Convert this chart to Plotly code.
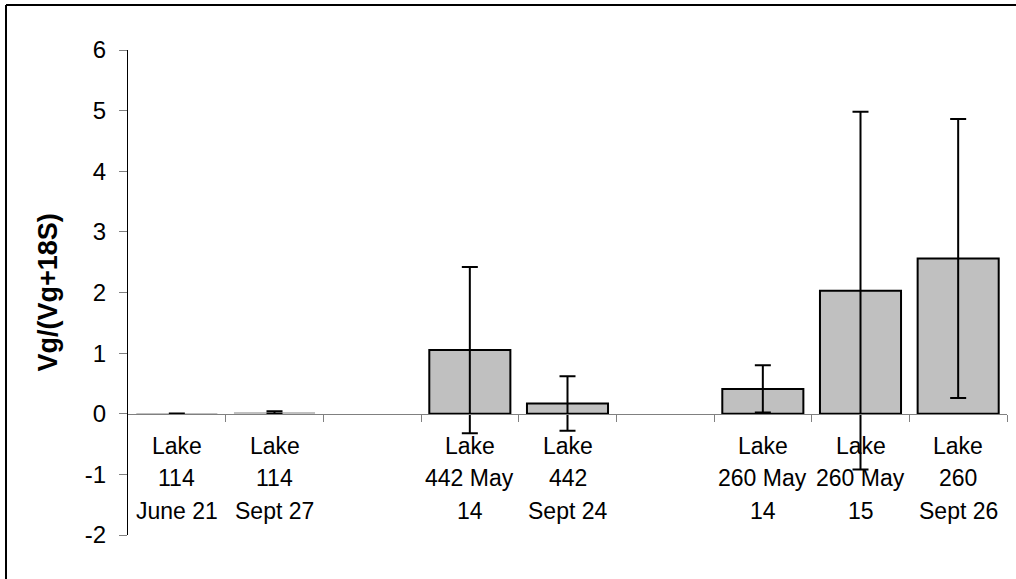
import plotly.graph_objects as go

# ---- data ----
label_lines = [
    ["Lake", "114", "June 21"],
    ["Lake", "114", "Sept 27"],
    ["", "", ""],
    ["Lake", "442 May", "14"],
    ["Lake", "442", "Sept 24"],
    ["", "", ""],
    ["Lake", "260 May", "14"],
    ["Lake", "260 May", "15"],
    ["Lake", "260", "Sept 26"],
]
values = [0.003, 0.02, None, 1.05, 0.17, None, 0.41, 2.03, 2.56]
errors = [0.003, 0.02, None, 1.37, 0.45, None, 0.39, 2.95, 2.30]
y_ticks = [-2, -1, 0, 1, 2, 3, 4, 5, 6]
y_title = "Vg/(Vg+18S)"

W, H = 1016, 579
ML, MR, MT, MB = 128, 9, 50, 44
PW, PH = W - ML - MR, H - MT - MB
FONT = "Arial, Liberation Sans, sans-serif"

n = len(label_lines)
xs = list(range(n))
ymin, ymax = min(y_ticks), max(y_ticks)
px_per_unit = PH / (ymax - ymin)
# near-zero bars are not outlined (as in the source chart)
outline = [2 if (v is not None and abs(v) * px_per_unit > 1.5) else 0 for v in values]

fig = go.Figure()
fig.add_trace(go.Bar(
    x=xs, y=values,
    width=0.83,
    marker=dict(color="#C0C0C0", line=dict(color="black", width=outline)),
    error_y=dict(type="data", array=errors, visible=True,
                 color="black", thickness=2, width=8),
    showlegend=False,
))

fig.update_layout(
    width=W, height=H, autosize=False,
    margin=dict(l=ML, r=MR, t=MT, b=MB, pad=0),
    paper_bgcolor="white", plot_bgcolor="white",
    font=dict(family=FONT, color="black"),
)

fig.update_yaxes(
    range=[ymin, ymax], tickvals=y_ticks, ticktext=[str(t) for t in y_ticks],
    showgrid=False, zeroline=False,
    showline=True, linecolor="black", linewidth=1,
    ticks="outside", ticklen=8, tickcolor="#808080", tickwidth=1,
    tickfont=dict(size=24, family=FONT),
    ticklabelstandoff=8,
)
fig.update_xaxes(
    range=[-0.5, n - 0.5],
    anchor="free", position=(0 - ymin) / (ymax - ymin),
    tickvals=[i + 0.5 for i in range(n)],
    showticklabels=False,
    showgrid=False, zeroline=False,
    showline=True, linecolor="#808080", linewidth=1,
    ticks="outside", ticklen=7, tickcolor="#808080", tickwidth=1,
)

# category labels, one annotation per text line
line_shift = [-32, -64.5, -97]
for i, lines in enumerate(label_lines):
    for k, txt in enumerate(lines):
        if not txt:
            continue
        fig.add_annotation(
            x=xs[i], y=0, xref="x", yref="y",
            text=txt, showarrow=False,
            xanchor="center", yanchor="middle",
            yshift=line_shift[k],
            font=dict(size=23, family=FONT, color="black"),
        )

# axis title
fig.add_annotation(
    x=(47 - ML) / PW, y=0.5, xref="paper", yref="paper",
    text="<b>" + y_title + "</b>", textangle=-90, showarrow=False,
    xanchor="center", yanchor="middle",
    font=dict(size=27, family=FONT, color="black"),
)

# outer frame (top and left edges)
def px_x(p):
    return (p - ML) / PW

def px_y(p):
    return (H - MB - p) / PH

fig.add_shape(type="line", xref="paper", yref="paper",
              x0=px_x(6), x1=px_x(W + 5), y0=px_y(5), y1=px_y(5),
              line=dict(color="black", width=2))
fig.add_shape(type="line", xref="paper", yref="paper",
              x0=px_x(6), x1=px_x(6), y0=px_y(5), y1=px_y(H + 5),
              line=dict(color="black", width=2))

fig.write_html("out.html")
